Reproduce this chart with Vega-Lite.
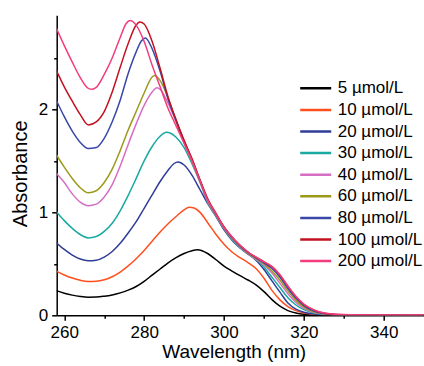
{
  "$schema": "https://vega.github.io/schema/vega-lite/v6.json",
  "width": 367,
  "height": 300,
  "autosize": {"type": "none"},
  "padding": {"left": 56.7, "top": 15.3, "right": 0.3, "bottom": 50.7},
  "background": "white",
  "config": {"view": {"stroke": null}, "font": "Liberation Sans"},
  "data": {"values": [
    {"c":5,"w":258,"a":0.240},{"c":5,"w":260,"a":0.215},{"c":5,"w":262,"a":0.196},{"c":5,"w":264,"a":0.183},{"c":5,"w":266,"a":0.176},{"c":5,"w":268,"a":0.177},{"c":5,"w":270,"a":0.185},{"c":5,"w":272,"a":0.198},{"c":5,"w":274,"a":0.218},{"c":5,"w":276,"a":0.245},{"c":5,"w":278,"a":0.280},{"c":5,"w":280,"a":0.330},{"c":5,"w":282,"a":0.390},{"c":5,"w":284,"a":0.450},{"c":5,"w":286,"a":0.510},{"c":5,"w":288,"a":0.560},{"c":5,"w":290,"a":0.600},{"c":5,"w":292,"a":0.627},{"c":5,"w":293.3,"a":0.636},{"c":5,"w":294.5,"a":0.628},{"c":5,"w":296,"a":0.598},{"c":5,"w":298,"a":0.540},{"c":5,"w":300,"a":0.478},{"c":5,"w":302,"a":0.430},{"c":5,"w":304,"a":0.385},{"c":5,"w":306,"a":0.343},{"c":5,"w":308,"a":0.295},{"c":5,"w":310,"a":0.230},{"c":5,"w":312,"a":0.152},{"c":5,"w":314,"a":0.088},{"c":5,"w":316,"a":0.046},{"c":5,"w":318,"a":0.022},{"c":5,"w":320,"a":0.010},{"c":5,"w":322,"a":0.005},{"c":5,"w":324,"a":0.002},{"c":5,"w":326,"a":0.001},{"c":5,"w":330,"a":0.0},{"c":5,"w":350,"a":0.0},
    {"c":10,"w":258,"a":0.430},{"c":10,"w":260,"a":0.392},{"c":10,"w":262,"a":0.362},{"c":10,"w":264,"a":0.340},{"c":10,"w":266,"a":0.328},{"c":10,"w":268,"a":0.330},{"c":10,"w":270,"a":0.345},{"c":10,"w":272,"a":0.375},{"c":10,"w":274,"a":0.420},{"c":10,"w":276,"a":0.480},{"c":10,"w":278,"a":0.550},{"c":10,"w":280,"a":0.630},{"c":10,"w":282,"a":0.720},{"c":10,"w":284,"a":0.810},{"c":10,"w":286,"a":0.890},{"c":10,"w":288,"a":0.960},{"c":10,"w":290,"a":1.025},{"c":10,"w":291.3,"a":1.050},{"c":10,"w":292.5,"a":1.042},{"c":10,"w":294,"a":1.000},{"c":10,"w":296,"a":0.895},{"c":10,"w":298,"a":0.785},{"c":10,"w":300,"a":0.690},{"c":10,"w":302,"a":0.615},{"c":10,"w":304,"a":0.560},{"c":10,"w":306,"a":0.513},{"c":10,"w":308,"a":0.455},{"c":10,"w":310,"a":0.360},{"c":10,"w":312,"a":0.242},{"c":10,"w":314,"a":0.150},{"c":10,"w":316,"a":0.085},{"c":10,"w":318,"a":0.045},{"c":10,"w":320,"a":0.022},{"c":10,"w":322,"a":0.011},{"c":10,"w":324,"a":0.005},{"c":10,"w":326,"a":0.003},{"c":10,"w":330,"a":0.001},{"c":10,"w":350,"a":0.0},
    {"c":20,"w":258,"a":0.705},{"c":20,"w":260,"a":0.640},{"c":20,"w":262,"a":0.585},{"c":20,"w":264,"a":0.547},{"c":20,"w":266,"a":0.530},{"c":20,"w":268,"a":0.535},{"c":20,"w":270,"a":0.565},{"c":20,"w":272,"a":0.620},{"c":20,"w":274,"a":0.700},{"c":20,"w":276,"a":0.800},{"c":20,"w":278,"a":0.910},{"c":20,"w":280,"a":1.040},{"c":20,"w":282,"a":1.170},{"c":20,"w":284,"a":1.300},{"c":20,"w":286,"a":1.410},{"c":20,"w":287.5,"a":1.475},{"c":20,"w":288.5,"a":1.490},{"c":20,"w":290,"a":1.460},{"c":20,"w":292,"a":1.360},{"c":20,"w":294,"a":1.220},{"c":20,"w":296,"a":1.080},{"c":20,"w":298,"a":0.960},{"c":20,"w":300,"a":0.830},{"c":20,"w":302,"a":0.730},{"c":20,"w":304,"a":0.655},{"c":20,"w":306,"a":0.595},{"c":20,"w":308,"a":0.535},{"c":20,"w":310,"a":0.445},{"c":20,"w":312,"a":0.335},{"c":20,"w":314,"a":0.225},{"c":20,"w":316,"a":0.120},{"c":20,"w":318,"a":0.060},{"c":20,"w":320,"a":0.030},{"c":20,"w":322,"a":0.015},{"c":20,"w":324,"a":0.008},{"c":20,"w":326,"a":0.004},{"c":20,"w":330,"a":0.001},{"c":20,"w":350,"a":0.0},
    {"c":30,"w":258,"a":1.007},{"c":30,"w":260,"a":0.920},{"c":30,"w":262,"a":0.845},{"c":30,"w":264,"a":0.785},{"c":30,"w":266,"a":0.752},{"c":30,"w":268,"a":0.765},{"c":30,"w":270,"a":0.815},{"c":30,"w":272,"a":0.895},{"c":30,"w":274,"a":1.015},{"c":30,"w":276,"a":1.165},{"c":30,"w":278,"a":1.330},{"c":30,"w":280,"a":1.500},{"c":30,"w":282,"a":1.640},{"c":30,"w":284,"a":1.740},{"c":30,"w":285.6,"a":1.778},{"c":30,"w":286.5,"a":1.772},{"c":30,"w":288,"a":1.730},{"c":30,"w":290,"a":1.630},{"c":30,"w":292,"a":1.470},{"c":30,"w":294,"a":1.290},{"c":30,"w":296,"a":1.090},{"c":30,"w":298,"a":0.965},{"c":30,"w":300,"a":0.840},{"c":30,"w":302,"a":0.735},{"c":30,"w":304,"a":0.660},{"c":30,"w":306,"a":0.600},{"c":30,"w":308,"a":0.545},{"c":30,"w":310,"a":0.470},{"c":30,"w":312,"a":0.370},{"c":30,"w":314,"a":0.270},{"c":30,"w":316,"a":0.170},{"c":30,"w":318,"a":0.100},{"c":30,"w":320,"a":0.055},{"c":30,"w":322,"a":0.028},{"c":30,"w":324,"a":0.014},{"c":30,"w":326,"a":0.007},{"c":30,"w":330,"a":0.002},{"c":30,"w":350,"a":0.0},
    {"c":40,"w":258,"a":1.380},{"c":40,"w":260,"a":1.290},{"c":40,"w":262,"a":1.180},{"c":40,"w":264,"a":1.100},{"c":40,"w":266,"a":1.065},{"c":40,"w":268,"a":1.080},{"c":40,"w":270,"a":1.150},{"c":40,"w":272,"a":1.270},{"c":40,"w":274,"a":1.450},{"c":40,"w":276,"a":1.660},{"c":40,"w":278,"a":1.860},{"c":40,"w":280,"a":2.040},{"c":40,"w":282,"a":2.170},{"c":40,"w":283.2,"a":2.210},{"c":40,"w":284,"a":2.195},{"c":40,"w":286,"a":2.060},{"c":40,"w":288,"a":1.880},{"c":40,"w":290,"a":1.680},{"c":40,"w":292,"a":1.490},{"c":40,"w":294,"a":1.295},{"c":40,"w":296,"a":1.100},{"c":40,"w":298,"a":0.970},{"c":40,"w":300,"a":0.845},{"c":40,"w":302,"a":0.745},{"c":40,"w":304,"a":0.665},{"c":40,"w":306,"a":0.600},{"c":40,"w":308,"a":0.545},{"c":40,"w":310,"a":0.490},{"c":40,"w":312,"a":0.410},{"c":40,"w":314,"a":0.310},{"c":40,"w":316,"a":0.210},{"c":40,"w":318,"a":0.125},{"c":40,"w":320,"a":0.068},{"c":40,"w":322,"a":0.035},{"c":40,"w":324,"a":0.018},{"c":40,"w":326,"a":0.009},{"c":40,"w":330,"a":0.003},{"c":40,"w":350,"a":0.0},
    {"c":60,"w":258,"a":1.560},{"c":60,"w":260,"a":1.440},{"c":60,"w":262,"a":1.330},{"c":60,"w":264,"a":1.240},{"c":60,"w":266,"a":1.190},{"c":60,"w":268,"a":1.210},{"c":60,"w":270,"a":1.290},{"c":60,"w":272,"a":1.420},{"c":60,"w":274,"a":1.600},{"c":60,"w":276,"a":1.800},{"c":60,"w":278,"a":1.980},{"c":60,"w":280,"a":2.160},{"c":60,"w":282,"a":2.315},{"c":60,"w":282.6,"a":2.330},{"c":60,"w":284,"a":2.280},{"c":60,"w":286,"a":2.110},{"c":60,"w":288,"a":1.890},{"c":60,"w":290,"a":1.690},{"c":60,"w":292,"a":1.500},{"c":60,"w":294,"a":1.300},{"c":60,"w":296,"a":1.110},{"c":60,"w":298,"a":0.975},{"c":60,"w":300,"a":0.850},{"c":60,"w":302,"a":0.750},{"c":60,"w":304,"a":0.670},{"c":60,"w":306,"a":0.605},{"c":60,"w":308,"a":0.550},{"c":60,"w":310,"a":0.500},{"c":60,"w":312,"a":0.430},{"c":60,"w":314,"a":0.340},{"c":60,"w":316,"a":0.235},{"c":60,"w":318,"a":0.145},{"c":60,"w":320,"a":0.080},{"c":60,"w":322,"a":0.042},{"c":60,"w":324,"a":0.021},{"c":60,"w":326,"a":0.011},{"c":60,"w":330,"a":0.004},{"c":60,"w":340,"a":0.001},{"c":60,"w":350,"a":0.0},
    {"c":80,"w":258,"a":2.090},{"c":80,"w":260,"a":1.930},{"c":80,"w":262,"a":1.790},{"c":80,"w":264,"a":1.680},{"c":80,"w":266,"a":1.620},{"c":80,"w":268,"a":1.630},{"c":80,"w":270,"a":1.720},{"c":80,"w":272,"a":1.880},{"c":80,"w":274,"a":2.090},{"c":80,"w":276,"a":2.350},{"c":80,"w":278,"a":2.560},{"c":80,"w":279.3,"a":2.665},{"c":80,"w":280.3,"a":2.695},{"c":80,"w":282,"a":2.590},{"c":80,"w":284,"a":2.370},{"c":80,"w":286,"a":2.100},{"c":80,"w":288,"a":1.890},{"c":80,"w":290,"a":1.690},{"c":80,"w":292,"a":1.510},{"c":80,"w":294,"a":1.310},{"c":80,"w":296,"a":1.120},{"c":80,"w":298,"a":0.980},{"c":80,"w":300,"a":0.855},{"c":80,"w":302,"a":0.755},{"c":80,"w":304,"a":0.675},{"c":80,"w":306,"a":0.610},{"c":80,"w":308,"a":0.558},{"c":80,"w":310,"a":0.510},{"c":80,"w":312,"a":0.455},{"c":80,"w":314,"a":0.370},{"c":80,"w":316,"a":0.260},{"c":80,"w":318,"a":0.165},{"c":80,"w":320,"a":0.095},{"c":80,"w":322,"a":0.050},{"c":80,"w":324,"a":0.025},{"c":80,"w":326,"a":0.013},{"c":80,"w":330,"a":0.005},{"c":80,"w":340,"a":0.001},{"c":80,"w":350,"a":0.0},
    {"c":100,"w":258,"a":2.380},{"c":100,"w":260,"a":2.220},{"c":100,"w":262,"a":2.080},{"c":100,"w":264,"a":1.950},{"c":100,"w":266,"a":1.850},{"c":100,"w":268,"a":1.880},{"c":100,"w":270,"a":1.980},{"c":100,"w":272,"a":2.170},{"c":100,"w":274,"a":2.410},{"c":100,"w":276,"a":2.640},{"c":100,"w":278,"a":2.820},{"c":100,"w":278.9,"a":2.850},{"c":100,"w":280,"a":2.830},{"c":100,"w":282,"a":2.660},{"c":100,"w":284,"a":2.400},{"c":100,"w":286,"a":2.120},{"c":100,"w":288,"a":1.900},{"c":100,"w":290,"a":1.700},{"c":100,"w":292,"a":1.520},{"c":100,"w":294,"a":1.315},{"c":100,"w":296,"a":1.125},{"c":100,"w":298,"a":0.990},{"c":100,"w":300,"a":0.860},{"c":100,"w":302,"a":0.760},{"c":100,"w":304,"a":0.680},{"c":100,"w":306,"a":0.615},{"c":100,"w":308,"a":0.565},{"c":100,"w":310,"a":0.520},{"c":100,"w":312,"a":0.470},{"c":100,"w":314,"a":0.390},{"c":100,"w":316,"a":0.280},{"c":100,"w":318,"a":0.180},{"c":100,"w":320,"a":0.105},{"c":100,"w":322,"a":0.060},{"c":100,"w":324,"a":0.030},{"c":100,"w":326,"a":0.016},{"c":100,"w":330,"a":0.006},{"c":100,"w":340,"a":0.002},{"c":100,"w":350,"a":0.001},
    {"c":200,"w":258,"a":2.790},{"c":200,"w":260,"a":2.620},{"c":200,"w":262,"a":2.460},{"c":200,"w":264,"a":2.310},{"c":200,"w":266,"a":2.205},{"c":200,"w":267,"a":2.196},{"c":200,"w":268,"a":2.215},{"c":200,"w":270,"a":2.340},{"c":200,"w":272,"a":2.500},{"c":200,"w":274,"a":2.700},{"c":200,"w":275.5,"a":2.835},{"c":200,"w":276.5,"a":2.865},{"c":200,"w":278,"a":2.820},{"c":200,"w":280,"a":2.660},{"c":200,"w":282,"a":2.430},{"c":200,"w":284,"a":2.220},{"c":200,"w":286,"a":2.010},{"c":200,"w":288,"a":1.840},{"c":200,"w":290,"a":1.670},{"c":200,"w":292,"a":1.500},{"c":200,"w":294,"a":1.305},{"c":200,"w":296,"a":1.115},{"c":200,"w":298,"a":0.985},{"c":200,"w":300,"a":0.855},{"c":200,"w":302,"a":0.760},{"c":200,"w":304,"a":0.680},{"c":200,"w":306,"a":0.615},{"c":200,"w":308,"a":0.565},{"c":200,"w":310,"a":0.520},{"c":200,"w":312,"a":0.475},{"c":200,"w":314,"a":0.395},{"c":200,"w":316,"a":0.285},{"c":200,"w":318,"a":0.185},{"c":200,"w":320,"a":0.110},{"c":200,"w":322,"a":0.062},{"c":200,"w":324,"a":0.032},{"c":200,"w":326,"a":0.017},{"c":200,"w":330,"a":0.007},{"c":200,"w":340,"a":0.003},{"c":200,"w":350,"a":0.002}
  ]},
  "mark": {"type": "line", "interpolate": "monotone", "strokeWidth": 1.5, "clip": true},
  "encoding": {
    "x": {
      "field": "w", "type": "quantitative",
      "scale": {"domain": [258.1, 350], "nice": false, "zero": false},
      "axis": {
        "title": "Wavelength (nm)",
        "values": [260, 270, 280, 290, 300, 310, 320, 330, 340],
        "format": "d",
        "labelExpr": "datum.value % 20 === 0 ? datum.label : ''",
        "grid": false,
        "domainColor": "#000", "domainWidth": 1.5,
        "tickColor": "#000", "tickWidth": 1.5,
        "tickSize": {"condition": {"test": "datum.value % 20 === 0", "value": 5}, "value": 3},
        "labelFontSize": 17, "labelColor": "#000", "labelPadding": 4,
        "titleFontSize": 19, "titleFontWeight": "normal", "titleColor": "#000",
        "titleX": 177, "titleY": 42, "titleBaseline": "alphabetic"
      }
    },
    "y": {
      "field": "a", "type": "quantitative",
      "scale": {"domain": [0, 2.915], "nice": false},
      "axis": {
        "title": "Absorbance",
        "values": [0, 0.5, 1, 1.5, 2, 2.5],
        "format": "~g",
        "labelExpr": "datum.value % 1 === 0 ? datum.label : ''",
        "grid": false,
        "domainColor": "#000", "domainWidth": 1.5,
        "tickColor": "#000", "tickWidth": 1.5,
        "tickSize": {"condition": {"test": "datum.value % 1 === 0", "value": 5}, "value": 3},
        "labelFontSize": 17, "labelColor": "#000", "labelPadding": 4,
        "titleFontSize": 20, "titleFontWeight": "normal", "titleColor": "#000",
        "titleX": -30, "titleY": 158, "titleBaseline": "alphabetic"
      }
    },
    "color": {
      "field": "c", "type": "nominal",
      "scale": {
        "domain": [5, 10, 20, 30, 40, 60, 80, 100, 200],
        "range": ["#000000", "#ff4f1f", "#2f3d99", "#19a9a1", "#d66fc4", "#9c9a1b", "#3948a8", "#c3121f", "#f23c7e"]
      },
      "legend": {
        "orient": "none", "legendX": 242, "legendY": 63,
        "title": null, "padding": 0,
        "symbolType": "stroke", "symbolSize": 961, "symbolStrokeWidth": 2.5,
        "labelFontSize": 17, "labelColor": "#000", "labelOffset": 5,
        "labelExpr": "datum.label + ' µmol/L'",
        "clipHeight": 20, "rowPadding": 1.6
      }
    }
  }
}
